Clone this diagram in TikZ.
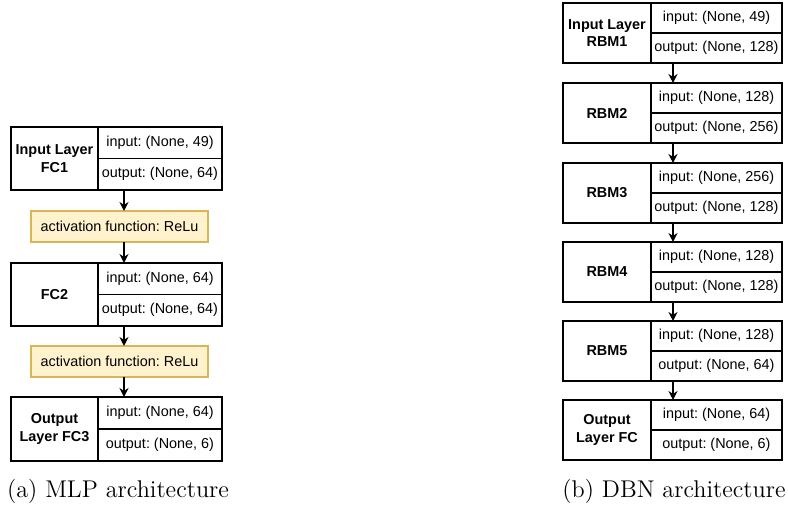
\documentclass[tikz,border=0pt]{standalone}
\usepackage{fontspec}
\newfontfamily\boxfont{Liberation Sans}
\usetikzlibrary{arrows.meta}
\definecolor{actfill}{HTML}{FFF2CC}
\definecolor{actdraw}{HTML}{D6B656}
\tikzset{
  lcell/.style={draw=black, line width=0.6pt, inner sep=0pt, outer sep=0pt, align=center, font=\boxfont\bfseries\fontsize{7.2}{8.8}\selectfont},
  rcell/.style={draw=black, line width=0.6pt, inner sep=0pt, outer sep=0pt, font=\boxfont\fontsize{7.2}{8.6}\selectfont},
  actbox/.style={draw=actdraw, fill=actfill, line width=1pt, inner sep=0pt, outer sep=0pt, minimum width=88.5pt, minimum height=15.5pt, font=\boxfont\fontsize{7.2}{8.6}\selectfont},
  arr/.style={-{Stealth[length=4.5pt,width=4.5pt]}, line width=0.6pt},
  capt/.style={font=\fontsize{12.1}{14}\selectfont, inner sep=0pt}
}
\newcommand{\mylayer}[9]{%
  \node[lcell, minimum width=#4, minimum height=#6, anchor=north west] (#1) at (#2,#3) {#7};
  \node[rcell, minimum width=#5, minimum height=#6/2, anchor=north west] (#1i) at (#1.north east) {#8};
  \node[rcell, minimum width=#5, minimum height=#6/2, anchor=north west] (#1o) at (#1i.south west) {#9};
}
\frenchspacing
\begin{document}
\begin{tikzpicture}[x=0.5pt,y=-0.5pt]
\useasboundingbox (0,0) rectangle (788,512);
% MLP
\coordinate (ax) at (124,0);
\mylayer{fca}{11}{127}{43.5pt}{62pt}{31.5pt}{Input Layer\\FC1}{input: (None, 49)}{output: (None, 64)}
\node[actbox] (act1) at (119.5,226.5) {activation function: ReLu};
\mylayer{fcb}{11}{263}{43.5pt}{62pt}{31.5pt}{FC2}{input: (None, 64)}{output: (None, 64)}
\node[actbox] (act2) at (119.5,361.5) {activation function: ReLu};
\mylayer{fcc}{11}{397}{43.5pt}{62pt}{32pt}{Output\\Layer FC3}{input: (None, 64)}{output: (None, 6)}
\draw[arr] (fcao.south -| ax) -- (act1.north -| ax);
\draw[arr] (act1.south -| ax) -- (fcbi.north -| ax);
\draw[arr] (fcbo.south -| ax) -- (act2.north -| ax);
\draw[arr] (act2.south -| ax) -- (fcci.north -| ax);
% DBN
\coordinate (bx) at (673,0);
\mylayer{rba}{563}{3}{44pt}{65.5pt}{30pt}{Input Layer\\RBM1}{input: (None, 49)}{output: (None, 128)}
\mylayer{rbb}{563}{83}{44pt}{65.5pt}{30pt}{RBM2}{input: (None, 128)}{output: (None, 256)}
\mylayer{rbc}{563}{163}{44pt}{65.5pt}{30pt}{RBM3}{input: (None, 256)}{output: (None, 128)}
\mylayer{rbd}{563}{242}{44pt}{65.5pt}{30pt}{RBM4}{input: (None, 128)}{output: (None, 128)}
\mylayer{rbe}{563}{321}{44pt}{65.5pt}{30pt}{RBM5}{input: (None, 128)}{output: (None, 64)}
\mylayer{rbf}{563}{400}{44pt}{65.5pt}{30pt}{Output\\Layer FC}{input: (None, 64)}{output: (None, 6)}
\draw[arr] (rbao.south -| bx) -- (rbbi.north -| bx);
\draw[arr] (rbbo.south -| bx) -- (rbci.north -| bx);
\draw[arr] (rbco.south -| bx) -- (rbdi.north -| bx);
\draw[arr] (rbdo.south -| bx) -- (rbei.north -| bx);
\draw[arr] (rbeo.south -| bx) -- (rbfi.north -| bx);
% captions
\node[capt] (capa) at (118,491) {(a) MLP architecture};
\node[capt] (capb) at (674,491) {(b) DBN architecture};
\end{tikzpicture}
\end{document}
